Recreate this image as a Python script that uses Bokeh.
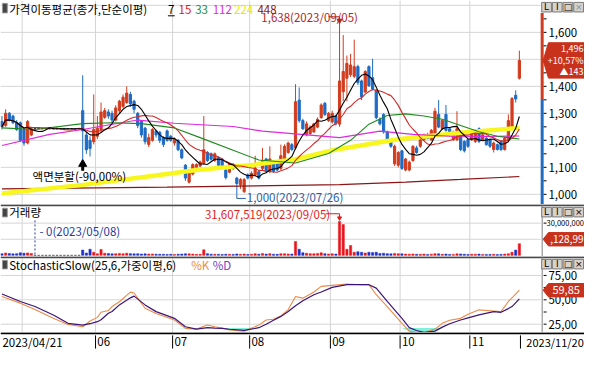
import numpy as np
import pandas as pd
from bokeh.plotting import figure
from bokeh.layouts import column
from bokeh.models import Range1d
from bokeh.embed import file_html
from bokeh.resources import INLINE
from bokeh.core.properties import value

# ---------------- data ----------------
open_prices = [1270,1255,1300,1290,1265,1265,1240,1190,1220,
               1243,1243,1243,1243,1243,1243,1243,1243,1243,1243,1243,1243,1243,
               1310,1220,1200,1195,1215,1240,1285,1305,1300,1275,1310,1325,1340,1370,1345,1300,1270,1245,
               1185,1200,1235,1230,1210,1235,1215,1190,1200,1165,1108,1045,1075,1100,1105,1115,1155,1150,
               1125,1137,1130,1090,1082,1110,1060,1035,1010,1072,1060,1072,1084,1096,1131,1084,1113,1119,
               1096,1131,1155,1184,1172,1349,1273,1220,1225,1231,1249,1284,1337,1273,1268,1290,1260,1380,
               1430,1443,1437,1473,1420,1379,1473,1432,1384,1278,1296,1231,1196,1113,1108,1161,1090,1090,
               1125,1172,1178,1202,1220,1202,1220,1296,1243,1296,1243,1202,1202,1225,1196,1202,1202,1196,
               1243,1202,1208,1202,1166,1184,1196,1166,1202,1249,1367,1430]
high_prices = [1290,1315,1305,1295,1275,1270,1245,1275,1250,
               1243,1243,1243,1243,1243,1243,1243,1243,1243,1243,1243,1243,1243,
               1441,1230,1215,1370,1290,1340,1320,1315,1310,1330,1350,1370,1400,1380,1350,1305,1275,1250,
               1225,1245,1240,1235,1215,1240,1220,1210,1205,1170,1112,1090,1115,1115,1125,1290,1160,1155,
               1155,1140,1135,1095,1118,1115,1065,1060,1060,1078,1085,1143,1090,1172,1135,1178,1118,1125,
               1184,1185,1195,1190,1408,1396,1280,1270,1255,1265,1285,1337,1342,1305,1310,1295,1638,1590,
               1514,1520,1573,1480,1425,1460,1478,1502,1390,1285,1300,1236,1200,1184,1160,1165,1135,1125,
               1182,1180,1206,1225,1228,1242,1320,1349,1278,1331,1248,1236,1308,1230,1200,1206,1236,1242,
               1248,1225,1212,1206,1195,1188,1200,1212,1296,1360,1385,1532]
low_prices = [1240,1250,1270,1260,1235,1195,1180,1185,1215,
              1243,1243,1243,1243,1243,1243,1243,1243,1243,1243,1243,1243,1243,
              1130,1150,1140,1185,1205,1230,1280,1280,1265,1270,1300,1320,1335,1325,1300,1245,1210,1185,
              1175,1195,1210,1190,1175,1195,1195,1180,1160,1130,1050,1040,1070,1095,1100,1110,1120,1125,
              1120,1105,1100,1055,1078,1090,1000,1020,1005,1055,1055,1068,1055,1090,1080,1078,1080,1085,
              1090,1125,1150,1160,1165,1265,1238,1215,1220,1228,1245,1280,1290,1268,1262,1255,1250,1345,
              1345,1435,1430,1405,1349,1375,1398,1385,1278,1255,1225,1190,1172,1105,1100,1090,1085,1085,
              1120,1150,1172,1198,1204,1198,1215,1245,1238,1232,1215,1198,1198,1160,1155,1172,1198,1190,
              1190,1198,1180,1172,1155,1162,1160,1162,1198,1245,1340,1425]
close_prices = [1250,1300,1275,1265,1240,1200,1190,1270,1243,
                1243,1243,1243,1243,1243,1243,1243,1243,1243,1243,1243,1243,1243,
                1235,1165,1170,1240,1245,1305,1310,1290,1275,1320,1345,1360,1375,1335,1315,1255,1220,1195,
                1210,1240,1220,1200,1185,1200,1200,1205,1165,1135,1060,1085,1110,1110,1120,1165,1125,1130,
                1150,1108,1102,1062,1113,1096,1040,1055,1055,1060,1078,1096,1060,1125,1084,1131,1084,1090,
                1143,1178,1190,1166,1343,1273,1243,1261,1249,1261,1278,1331,1296,1300,1300,1261,1420,1455,
                1485,1479,1473,1414,1361,1455,1402,1390,1284,1261,1231,1196,1178,1178,1155,1096,1131,1119,
                1178,1155,1202,1220,1208,1237,1308,1249,1273,1237,1220,1231,1243,1166,1161,1178,1231,1237,
                1196,1220,1184,1178,1190,1166,1166,1208,1273,1355,1353,1496]
volumes_m = [1.5,2.2,1.8,1.4,1.6,2.4,2.0,2.3,1.8,
             0,0,0,0,0,0,0,0,0,0,0,0,0,
             4.9,2.2,5.7,2.9,1.5,5.5,2.0,1.8,1.4,1.6,1.8,1.5,2.0,1.6,1.4,1.5,1.3,1.4,
             1.2,1.3,1.1,1.0,1.0,0.9,1.0,0.9,1.1,1.2,1.5,1.4,1.2,1.0,1.0,5.2,1.6,1.1,
             1.0,1.0,0.9,1.1,1.0,0.9,1.3,1.1,1.2,0.9,1.0,1.5,1.1,1.8,1.2,1.6,1.1,1.0,
             1.5,1.6,1.3,1.2,12.9,5.7,2.5,2.0,1.6,1.5,1.8,2.4,1.6,1.3,1.5,1.2,31.607519,28.7,
             5.7,9.2,2.9,3.4,2.9,2.2,2.9,2.6,2.9,1.8,2.0,1.6,1.4,1.8,1.5,1.4,1.2,1.1,
             1.3,1.0,1.0,1.2,0.9,1.1,1.6,1.4,1.0,1.2,0.9,0.9,1.4,1.3,1.0,0.9,1.0,1.1,
             1.2,0.9,0.8,0.9,1.0,0.8,0.9,1.2,1.5,2.9,4.9,10.9]

ma33_idx = [0, 9, 22, 30, 38, 47, 54, 63, 70, 80, 89, 95, 100, 105, 110, 115, 120, 125, 130, 135, 141]
ma33_val = [1246, 1240, 1262, 1265, 1262, 1246, 1210, 1163, 1127, 1116, 1151, 1200, 1260, 1292, 1298,
            1290, 1278, 1255, 1232, 1215, 1205]
ma112_idx = [0, 13, 22, 29, 37, 47, 63, 71, 92, 103, 112, 125, 141]
ma112_val = [1181, 1222, 1240, 1257, 1275, 1263, 1251, 1234, 1210, 1234, 1222, 1213, 1216]
ma224_idx = [0, 22, 45, 53, 69, 80, 90, 108, 125, 141]
ma224_val = [1003, 1035, 1075, 1090, 1110, 1130, 1163, 1204, 1228, 1246]
ma448_idx = [0, 45, 92, 110, 125, 141]
ma448_val = [1020, 1027, 1036, 1045, 1055, 1066]

stoch_idx = [0, 5, 9, 14, 18, 22, 24, 26, 27, 29, 30, 32, 35, 36, 39, 42, 47, 50, 53, 56, 58, 60, 62,
             66, 70, 72, 74, 76, 78, 80, 82, 85, 87, 90, 94, 98, 100, 102, 105, 109, 111, 113, 115, 118,
             120, 122, 125, 127, 130, 134, 136, 138, 139, 141]
stoch_k = [53.4, 46.6, 40.0, 31.0, 24.8, 22.4, 28.3, 32.0, 37.2, 39.0, 43.1, 48.0, 57.9, 57.0, 41.4, 36.0,
           29.3, 20.7, 20.0, 24.1, 22.4, 21.0, 19.0, 17.9, 24.1, 29.3, 30.0, 33.5, 40.0, 53.4, 51.7, 58.0,
           63.8, 64.8, 66.2, 65.5, 65.5, 55.2, 43.1, 25.9, 17.9, 16.5, 16.2, 20.0, 25.9, 29.0, 31.0, 35.2,
           39.7, 38.6, 37.9, 48.3, 52.0, 59.85]
stoch_d = [55.9, 48.3, 43.1, 34.5, 25.9, 24.1, 25.5, 27.6, 29.5, 36.2, 38.0, 44.8, 52.0, 53.8, 44.8, 37.9,
           31.0, 22.4, 20.0, 21.4, 21.0, 20.7, 19.8, 18.6, 21.4, 25.0, 29.0, 33.0, 38.0, 44.0, 49.0, 55.2,
           58.0, 62.8, 65.5, 65.5, 65.5, 62.0, 48.3, 31.0, 21.5, 18.5, 16.6, 17.9, 22.0, 25.5, 29.3, 31.5,
           34.5, 37.9, 37.2, 41.0, 43.1, 51.0]

month_idx = [6, 26, 47, 68, 90, 109, 128]
date_label_idx = [0, 26, 47, 68, 90, 109, 128, 141]
date_labels = ["2023/04/21", "06", "07", "08", "09", "10", "11", "2023/11/20"]
price_ticks = [1000, 1100, 1200, 1300, 1400, 1600]
price_tick_labels = ["1,000", "1,100", "1,200", "1,300", "1,400", "1,600"]
stoch_ticks = [25, 50, 75]
stoch_tick_labels = ["25,00", "50,00", "75,00"]

# ---------------- layout helpers (reference pixel positions -> data) ----------------
W, H = 584, 350
SY_ = H / 366.0
H_PRICE, H_VOL, H_STO, H_DATE = 204, 52, 76, 18
B1 = H_PRICE / SY_
B2 = (H_PRICE + H_VOL) / SY_
B3 = (H_PRICE + H_VOL + H_STO) / SY_
B4 = 366.0
PXI = 3.77
X0 = -0.4
FONT = "Noto Sans CJK KR"


def X(px):
    return px / PXI + X0


def PY(py):
    return 1600 - (py - 33.3) / 0.2823


def VY(py):
    return (266.5 - py) / 1.123 * 1e6


def SY(py):
    return 50 + (313 - py) / 1.02


xr = Range1d(X(0), X(600))


def make_fig(h, y0, y1):
    f = figure(width=W, height=h, x_range=xr, y_range=Range1d(y0, y1), output_backend="svg",
               toolbar_location=None, min_border=0, x_axis_location=None, y_axis_location=None,
               title=None)
    f.grid.visible = False
    f.outline_line_color = None
    f.background_fill_color = "white"
    f.border_fill_color = "white"
    return f


def txt(f, px, py, s, conv, color="#000000", size=11.5, align="left", font=FONT):
    f.text(x=[X(px)], y=[conv(py)], text=[s], text_color=color, text_font=value(font),
           text_font_size=value(f"{size}px"), text_align=align, text_baseline="middle")


def buttons(f, ytop, conv, xcol="#000000"):
    labels = ["L", "I", "□", "×"]
    for k, lab in enumerate(labels):
        l = 556 + k * 11
        f.quad(left=[X(l)], right=[X(l + 10)], top=[conv(ytop)], bottom=[conv(ytop + 10)],
               fill_color="#d6d3ce", line_color="#7a7a7a", line_width=1)
        col = "#909090" if (lab == "×" and xcol != "#000000") else "#000000"
        txt(f, l + 5, ytop + 5, lab, conv, color=col, size=9, align="center", font="DejaVu Sans")


def vgrid(f, y0, y1):
    xs = [m - 0.5 for m in month_idx]
    f.segment(x0=xs, y0=[y0] * len(xs), x1=xs, y1=[y1] * len(xs), line_color="#d4d4d4", line_width=1)


idx = np.arange(len(close_prices))
o = np.array(open_prices, float)
c = np.array(close_prices, float)
hi = np.array(high_prices, float)
lo = np.array(low_prices, float)
up = c > o
dn = c < o
candle_col = np.where(up, "#d23c1e", np.where(dn, "#1f6cc4", "#333333"))
vol_col = np.where(up, "#e8141c", np.where(dn, "#1f2fc8", "#333333"))

# ---------------- price panel ----------------
fp = make_fig(H_PRICE, PY(B1), PY(0))
levels = list(range(1000, 1800, 100))
fp.segment(x0=[X(0)] * len(levels), y0=levels, x1=[X(555)] * len(levels), y1=levels,
           line_color="#d4d4d4", line_width=1)
vgrid(fp, PY(B1), PY(0))

fp.segment(x0=idx, y0=lo, x1=idx, y1=hi, line_color=candle_col, line_width=1)
fp.vbar(x=idx, width=0.6, top=np.maximum(o, c), bottom=np.minimum(o, c),
        fill_color=candle_col, line_color=candle_col, line_width=1)

ma7 = pd.Series(c).rolling(7, min_periods=1).mean().values
ma15 = pd.Series(c).rolling(15, min_periods=1).mean().values
fp.line(ma448_idx, ma448_val, line_color="#8c1414", line_width=1.2)
fp.line(ma224_idx, ma224_val, line_color="#f7f71e", line_width=4.5)
fp.line(ma112_idx, ma112_val, line_color="#e028e0", line_width=1.1)
fp.line(ma33_idx, ma33_val, line_color="#1e8a1e", line_width=1.1)
fp.line(idx, ma15, line_color="#d42a2a", line_width=1.1)
fp.line(idx, ma7, line_color="#000000", line_width=1.1)

# right scale
prev_close = close_prices[-2]
fp.segment(x0=[X(556.5)], y0=[PY(13)], x1=[X(556.5)], y1=[prev_close], line_color="#d23c1e", line_width=3)
fp.segment(x0=[X(556.5)], y0=[prev_close], x1=[X(556.5)], y1=[PY(B1)], line_color="#1f6cc4", line_width=3)
tk = list(range(1000, 1701, 50))
fp.segment(x0=[X(558)] * len(tk), y0=tk, x1=[X(561)] * len(tk), y1=tk, line_color="#000000", line_width=1)
for v, s in zip(price_ticks, price_tick_labels):
    fp.text(x=[X(563)], y=[v], text=[s], text_font=value(FONT), text_font_size=value("11.5px"),
            text_color="#000000", text_baseline="middle", text_align="left")

# current price tag
last = close_prices[-1]
dp = 1 / 0.2823
tag_x = [X(557.5), X(563), X(600), X(600), X(563)]
tag_y = [last, last + 18.5 * dp, last + 18.5 * dp, last - 18.5 * dp, last - 18.5 * dp]
fp.patch(tag_x, tag_y, fill_color="#c8321c", line_color="#c8321c")
chg = last - prev_close
pct = chg / prev_close * 100
fp.text(x=[X(599)] * 3, y=[last + 12 * dp, last, last - 12 * dp],
        text=[f"{last:,}", f"+{pct:.2f}%".replace(".", ","), f"▲{chg}"],
        text_color="white", text_font=value(FONT), text_font_size=value("9px"),
        text_baseline="middle", text_align="right")

# title
fp.quad(left=[X(2)], right=[X(7)], top=[PY(3)], bottom=[PY(13)], fill_color="#444444",
        line_color="#999999", line_width=1)
txt(fp, 9, 9, "가격이동평균(종가,단순이평)", PY)
ma_labels = [("7", 172, "#000000"), ("15", 183, "#e02020"), ("33", 200, "#1e8a1e"),
             ("112", 218, "#e028e0"), ("224", 240, "#e8e800"), ("448", 264, "#8c1414")]
for s, px, col in ma_labels:
    txt(fp, px, 9, s, PY, color=col)
fp.segment(x0=[X(172)], y0=[PY(16)], x1=[X(179)], y1=[PY(16)], line_color="#000000", line_width=1)
buttons(fp, 2, PY, xcol="#909090")

# annotations: high / low / split
hi_i = int(np.argmax(hi))
lo_i = int(np.argmin(lo))
txt(fp, 268, 17, f"{int(hi[hi_i]):,}(2023/09/05)", PY, color="#b0281e")
fp.segment(x0=[X(337)], y0=[PY(17)], x1=[hi_i], y1=[PY(17)], line_color="#b0281e", line_width=1)
fp.segment(x0=[hi_i], y0=[PY(17)], x1=[hi_i], y1=[PY(21)], line_color="#b0281e", line_width=1)
fp.scatter(x=[hi_i], y=[PY(21)], marker="inverted_triangle", size=5, fill_color="#b0281e",
           line_color="#b0281e")

fp.segment(x0=[lo_i], y0=[lo[lo_i]], x1=[lo_i], y1=[PY(207)], line_color="#2a5fa8", line_width=1)
fp.segment(x0=[lo_i], y0=[PY(207)], x1=[X(252)], y1=[PY(207)], line_color="#2a5fa8", line_width=1)
txt(fp, 253, 206, f"{int(lo[lo_i]):,}(2023/07/26)", PY, color="#2a5fa8")

txt(fp, 33, 184, "액면분할(-90,00%)", PY)
fp.segment(x0=[22], y0=[PY(172)], x1=[22], y1=[PY(178)], line_color="#000000", line_width=3)
fp.scatter(x=[22], y=[PY(171)], marker="triangle", size=8, fill_color="#000000", line_color="#000000")

# ---------------- volume panel ----------------
vol = np.array(volumes_m) * 1e6
fv = make_fig(H_VOL, VY(B2), VY(B1))
vgrid(fv, VY(B2), VY(B1))
for lv in [15e6, 30e6]:
    fv.segment(x0=[X(0)], y0=[lv], x1=[X(555)], y1=[lv], line_color="#d4d4d4", line_width=1)
fv.vbar(x=idx, width=0.62, top=vol, bottom=0, fill_color=vol_col, line_color=vol_col, line_width=0.5)
fv.segment(x0=[X(0)], y0=[VY(B1 + 0.9)], x1=[X(600)], y1=[VY(B1 + 0.9)], line_color="#4a4a4a", line_width=2)
fv.segment(x0=[X(556.5)], y0=[VY(B1)], x1=[X(556.5)], y1=[VY(B2)], line_color="#808080", line_width=1)
fv.segment(x0=[X(558)], y0=[30e6], x1=[X(561)], y1=[30e6], line_color="#000000", line_width=1)
fv.text(x=[X(599.5)], y=[30e6], text=["30,000,000"], text_font=value(FONT), text_font_size=value("7.5px"),
        text_color="#000000", text_baseline="middle", text_align="right")
fv.quad(left=[X(2)], right=[X(7)], top=[VY(B1 + 4)], bottom=[VY(B1 + 13)], fill_color="#444444",
        line_color="#999999", line_width=1)
txt(fv, 9, B1 + 8, "거래량", VY)
buttons(fv, B1 + 3, VY)
vmax_i = int(np.argmax(vol))
txt(fv, 210, 223, f"{int(round(vol[vmax_i])):,}(2023/09/05)", VY, color="#e01e1e")
fv.segment(x0=[X(334)], y0=[VY(223)], x1=[vmax_i], y1=[VY(223)], line_color="#e01e1e", line_width=1)
fv.segment(x0=[vmax_i], y0=[VY(223)], x1=[vmax_i], y1=[VY(227)], line_color="#e01e1e", line_width=1)
fv.scatter(x=[vmax_i], y=[VY(227.5)], marker="inverted_triangle", size=4, fill_color="#e01e1e",
           line_color="#e01e1e")
zero_i = 9
fv.segment(x0=[zero_i], y0=[VY(230)], x1=[zero_i], y1=[0], line_color="#2a3aa0", line_width=1,
           line_dash="2 2")
txt(fv, 40, 241, "- 0(2023/05/08)", VY, color="#2a3aa0")
vt = 15e6
vpx = 1.123e-6
fv.patch([X(557.5), X(563), X(600), X(600), X(563)],
         [vt, vt + 7 / vpx, vt + 7 / vpx, vt - 7 / vpx, vt - 7 / vpx],
         fill_color="#c8321c", line_color="#c8321c")
fv.text(x=[X(599)], y=[vt], text=[",128,99"], text_color="white", text_font=value(FONT),
        text_font_size=value("10px"), text_baseline="middle", text_align="right")

# ---------------- stochastic panel ----------------
fs = make_fig(H_STO, SY(B3), SY(B2))
vgrid(fs, SY(B3), SY(B2))
for lv in stoch_ticks:
    fs.segment(x0=[X(0)], y0=[lv], x1=[X(555)], y1=[lv], line_color="#d4d4d4", line_width=1)
K = np.array(stoch_k)
D = np.array(stoch_d)
thr = 21.0
fs.varea(x=stoch_idx, y1=np.minimum(np.minimum(K, D), thr), y2=thr, fill_color="#7ff2dc")
fs.line(stoch_idx, stoch_k, line_color="#ec8a46", line_width=1.1)
fs.line(stoch_idx, stoch_d, line_color="#3c1478", line_width=1.2)
fs.segment(x0=[X(0)], y0=[SY(B2 + 0.9)], x1=[X(600)], y1=[SY(B2 + 0.9)], line_color="#4a4a4a", line_width=2)
fs.segment(x0=[X(556.5)], y0=[SY(B2)], x1=[X(556.5)], y1=[SY(B3)], line_color="#808080", line_width=1)
stk = [12.5 * k for k in range(2, 8)]
fs.segment(x0=[X(558)] * len(stk), y0=stk, x1=[X(561)] * len(stk), y1=stk, line_color="#000000", line_width=1)
for v, s in zip(stoch_ticks, stoch_tick_labels):
    fs.text(x=[X(563)], y=[v], text=[s], text_font=value(FONT), text_font_size=value("11.5px"),
            text_color="#000000", text_baseline="middle", text_align="left")
fs.quad(left=[X(2)], right=[X(7)], top=[SY(B2 + 4)], bottom=[SY(B2 + 13)], fill_color="#444444",
        line_color="#999999", line_width=1)
txt(fs, 9, B2 + 9, "StochasticSlow(25,6,가중이평,6)", SY)
txt(fs, 196, B2 + 9, "%K", SY, color="#ec8a46")
txt(fs, 218, B2 + 9, "%D", SY, color="#7a3cc0")
buttons(fs, B2 + 3, SY)
kl = stoch_k[-1]
kp = 1.02
fs.patch([X(557.5), X(563), X(600), X(600), X(563)],
         [kl, kl + 7 / kp, kl + 7 / kp, kl - 7 / kp, kl - 7 / kp],
         fill_color="#c8321c", line_color="#c8321c")
fs.text(x=[X(567)], y=[kl], text=[f"{kl:.2f}".replace(".", ",")], text_color="white",
        text_font=value(FONT), text_font_size=value("11px"), text_baseline="middle", text_align="left")

# ---------------- date strip ----------------
fd = make_fig(H_DATE, B4, B3)
fd.segment(x0=[X(0)], y0=[B3 + 0.9], x1=[X(600)], y1=[B3 + 0.9], line_color="#000000", line_width=2)
tick_x = [m - 0.5 for m in month_idx[1:]] + [date_label_idx[-1] + 0.3]
fd.segment(x0=tick_x, y0=[B3 + 3] * len(tick_x), x1=tick_x, y1=[B4 - 2] * len(tick_x),
           line_color="#000000", line_width=1)
lab_x = [X(2)] + [float(m) for m in date_label_idx[1:-1]]
fd.text(x=lab_x, y=[(B3 + B4) / 2 + 0.5] * len(lab_x), text=date_labels[:-1], text_font=value(FONT),
        text_font_size=value("11.5px"), text_color="#000000", text_baseline="middle", text_align="left")
fd.text(x=[X(599.3)], y=[(B3 + B4) / 2 + 0.5], text=[date_labels[-1]], text_font=value(FONT),
        text_font_size=value("11px"), text_color="#000000", text_baseline="middle", text_align="right")

layout = column(fp, fv, fs, fd, spacing=0)
open("out.html", "w").write(file_html(layout, INLINE))
